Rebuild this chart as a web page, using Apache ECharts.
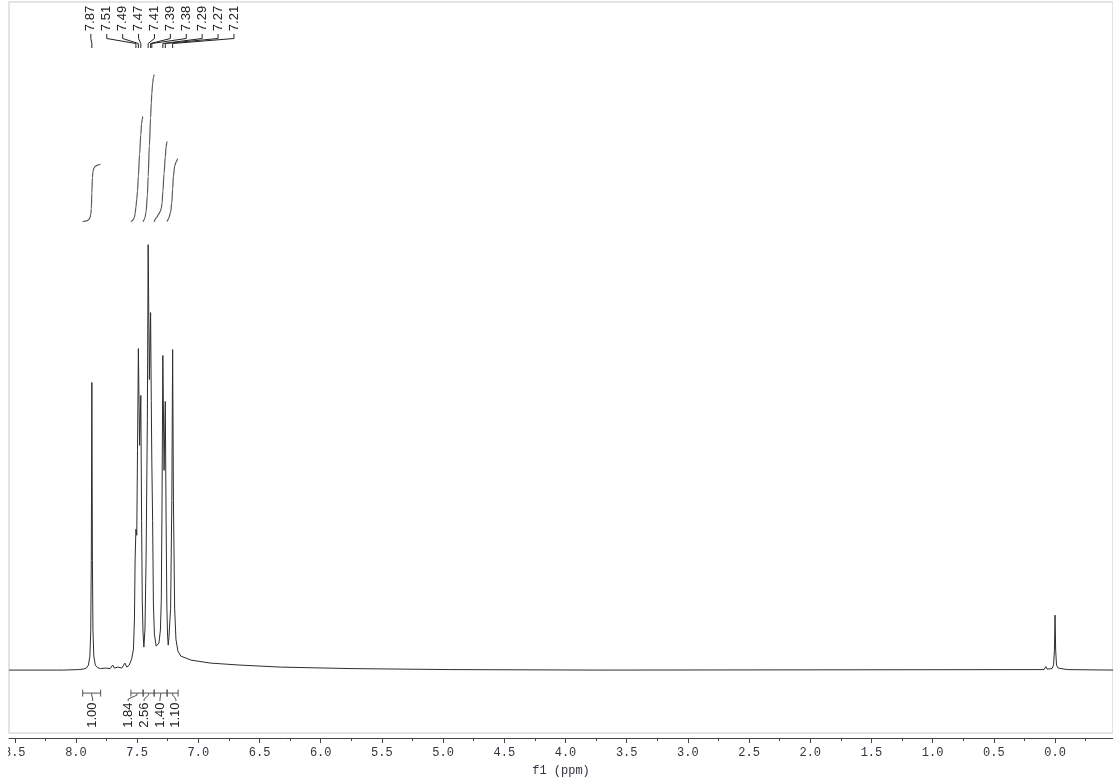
<!DOCTYPE html>
<html>
<head>
<meta charset="utf-8">
<title>1H NMR</title>
<script src="https://cdn.jsdelivr.net/npm/echarts@6/dist/echarts.min.js"></script>
<style>
  html, body { margin: 0; padding: 0; background: #ffffff; }
  #main { width: 1113px; height: 782px; }
</style>
</head>
<body>
<div id="main"></div>
<script>
// ---- Spectrum trace: chemical shift (ppm) and intensity (arbitrary units) ----
const shiftPpm = [
  8.547, 8.10, 7.98, 7.94, 7.915, 7.898, 7.886, 7.879, 7.8745,
  7.870,
  7.8655, 7.861, 7.854, 7.842, 7.825, 7.80, 7.76, 7.72, 7.70, 7.685, 7.657,
  7.625, 7.60, 7.585, 7.565, 7.545, 7.530, 7.522, 7.5165,
  7.510, 7.503, 7.497, 7.490, 7.480, 7.470, 7.4635, 7.458, 7.452, 7.445,
  7.436, 7.427, 7.4165, 7.410, 7.400, 7.390, 7.3845, 7.380, 7.3735, 7.367,
  7.359, 7.345, 7.322, 7.310, 7.3025, 7.2965, 7.290, 7.280, 7.270, 7.2635,
  7.257, 7.2515, 7.246, 7.240, 7.2265, 7.2165, 7.210, 7.2035, 7.1935, 7.183,
  7.167, 7.143, 7.06, 6.90, 6.66, 6.33, 5.76, 4.95, 3.72,
  0.09, 0.075, 0.065, 0.025, 0.012, 0.005, 0.000, -0.005, -0.012, -0.025,
  -0.1, -0.4735
];
const intensity = [
  0, 0, 0.5, 1, 2, 5, 14, 40, 110,
  288,
  110, 40, 14, 5, 2.5, 1.5, 2, 1.5, 5, 2, 3,
  2, 7, 3, 5, 11, 21, 51, 111,
  141, 135, 220, 322, 225, 275, 150, 70, 38, 23,
  41, 111, 251, 426, 291, 358, 270, 209, 150, 66,
  36, 24, 27, 40, 70, 170, 315, 200, 269, 150,
  62, 35, 25, 33, 62, 170, 321, 170, 62, 31,
  19, 14, 10, 7, 5, 3, 1.5, 0.5, 0,
  0.5, 3.5, 1, 1.5, 5, 20, 55, 20, 5, 2,
  0.5, 0
];

// ---- Picked peaks (ppm) ----
const peakShifts = [7.87, 7.51, 7.49, 7.47, 7.41, 7.39, 7.38, 7.29, 7.27, 7.21];

// ---- Integration regions (ppm) and integrals ----
const integStart  = [7.945, 7.551, 7.451, 7.361, 7.255];
const integEnd    = [7.798, 7.451, 7.361, 7.255, 7.165];
const integValues = [1.00, 1.84, 2.56, 1.40, 1.10];

// ---- Axis ticks ----
const majorTicks = [8.5, 8.0, 7.5, 7.0, 6.5, 6.0, 5.5, 5.0, 4.5, 4.0, 3.5, 3.0, 2.5, 2.0, 1.5, 1.0, 0.5, 0.0, -0.5];
const minorTicks = [8.25, 7.75, 7.25, 6.75, 6.25, 5.75, 5.25, 4.75, 4.25, 3.75, 3.25, 2.75, 2.25, 1.75, 1.25, 0.75, 0.25, -0.25];
const tickLabels = [8.5, 8.0, 7.5, 7.0, 6.5, 6.0, 5.5, 5.0, 4.5, 4.0, 3.5, 3.0, 2.5, 2.0, 1.5, 1.0, 0.5, 0.0];

// ---- Layout / style constants ----
const X_MIN = -0.4735, X_MAX = 8.547;
const Y_MIN = -63, Y_MAX = 669;
const INTEG_BASE = 449;     // vertical offset of integral curves (intensity units)
const INTEG_SCALE = 57.5;   // curve rise per integral unit
const LABEL_STEP = 15.9;    // spacing of spread-out peak labels (px)
const INK = '#222222';

// Linear lookup of the trace at a given shift
function traceAt(p) {
  for (let j = 0; j < shiftPpm.length - 1; j++) {
    const a = shiftPpm[j], b = shiftPpm[j + 1];
    if (p <= a && p >= b) {
      const t = (a - p) / (a - b);
      return intensity[j] + t * (intensity[j + 1] - intensity[j]);
    }
  }
  return 0;
}

// Running integral of the trace across a region, scaled to the stated integral
function integralCurve(start, end, value) {
  const pts = [[start, traceAt(start)]];
  for (let j = 0; j < shiftPpm.length; j++) {
    if (shiftPpm[j] < start && shiftPpm[j] > end) pts.push([shiftPpm[j], intensity[j]]);
  }
  pts.push([end, traceAt(end)]);
  const cum = [0];
  for (let k = 1; k < pts.length; k++) {
    cum.push(cum[k - 1] + (pts[k - 1][1] + pts[k][1]) / 2 * (pts[k - 1][0] - pts[k][0]));
  }
  const total = cum[cum.length - 1];
  return pts.map((p, k) => [p[0], INTEG_BASE + value * INTEG_SCALE * cum[k] / total]);
}

const chart = echarts.init(document.getElementById('main'), null, { renderer: 'canvas' });

const integralSeries = integStart.map((s, i) => ({
  type: 'line',
  data: integralCurve(s, integEnd[i], integValues[i]),
  showSymbol: false,
  smooth: 0.35,
  smoothMonotone: 'x',
  silent: true,
  lineStyle: { color: '#5a5a5a', width: 1.2 },
  z: 3
}));

const option = {
  animation: false,
  backgroundColor: '#ffffff',
  grid: {
    left: 9, top: 2, width: 1105, height: 732,
    show: true, borderColor: '#dcdcdc', borderWidth: 1.5,
    containLabel: false
  },
  xAxis: [
    {
      type: 'value', min: X_MIN, max: X_MAX, inverse: true,
      position: 'bottom', offset: 5,
      name: 'f1 (ppm)', nameLocation: 'middle', nameGap: 27,
      nameTextStyle: { fontFamily: 'Liberation Mono', fontSize: 12, color: '#333340' },
      axisLine: { show: true, onZero: false, lineStyle: { color: '#444', width: 1 } },
      axisTick: { show: true, inside: false, length: 5, customValues: majorTicks, lineStyle: { color: '#444', width: 1 } },
      axisLabel: {
        customValues: tickLabels, margin: 9,
        formatter: v => Number(v).toFixed(1),
        fontFamily: 'Liberation Mono', fontSize: 12, color: '#333340'
      },
      splitLine: { show: false }
    },
    {
      type: 'value', min: X_MIN, max: X_MAX, inverse: true,
      position: 'bottom', offset: 5,
      axisLine: { show: false, onZero: false },
      axisTick: { show: true, inside: false, length: 3, customValues: minorTicks, lineStyle: { color: '#444', width: 1 } },
      axisLabel: { show: false },
      splitLine: { show: false }
    }
  ],
  yAxis: { type: 'value', min: Y_MIN, max: Y_MAX, show: false },
  series: [
    {
      type: 'line',
      data: shiftPpm.map((s, i) => [s, intensity[i]]),
      showSymbol: false,
      silent: true,
      lineStyle: { color: '#2e2e2e', width: 1 },
      z: 4
    },
    ...integralSeries,
    {
      // peak-pick labels with leader lines
      type: 'custom',
      data: peakShifts.map((s, i) => [s, i]),
      silent: true,
      z: 5,
      renderItem: (params, api) => {
        const i = api.value(1);
        const px = api.coord([api.value(0), 0])[0];
        const x0 = api.coord([peakShifts[0], 0])[0] - 1;
        const lx = x0 + i * LABEL_STEP;
        return {
          type: 'group',
          children: [
            {
              type: 'polyline',
              shape: { points: [[lx, 34], [lx, 38.5], [px, 43.5], [px, 48]] },
              style: { stroke: INK, fill: null, lineWidth: 1 }
            },
            {
              type: 'text', x: lx, y: 18.5, rotation: Math.PI / 2,
              style: {
                text: api.value(0).toFixed(2), x: 0, y: 0,
                align: 'center', verticalAlign: 'middle',
                font: '13px "Liberation Sans"', fill: INK
              }
            }
          ]
        };
      }
    },
    {
      // integration brackets and values under the trace
      type: 'custom',
      data: integStart.map((s, i) => [s, integEnd[i], integValues[i], i]),
      silent: true,
      z: 5,
      renderItem: (params, api) => {
        const i = api.value(3);
        const x1 = api.coord([api.value(0), 0])[0];
        const x2 = api.coord([api.value(1), 0])[0];
        const yb = api.coord([0, 0])[1] + 23;
        const centers = integStart.map((s, k) =>
          (api.coord([s, 0])[0] + api.coord([integEnd[k], 0])[0]) / 2);
        let lx;
        if (i === 0) {
          lx = centers[0] + 1;
        } else {
          const grp = centers.slice(1);
          const mean = grp.reduce((a, b) => a + b, 0) / grp.length;
          lx = mean - 2.7 + (i - 1 - (grp.length - 1) / 2) * LABEL_STEP;
        }
        const cx = (x1 + x2) / 2;
        const st = { stroke: '#555', fill: null, lineWidth: 1 };
        return {
          type: 'group',
          children: [
            { type: 'line', shape: { x1: x1, y1: yb, x2: x2, y2: yb }, style: st },
            { type: 'line', shape: { x1: x1, y1: yb - 3.5, x2: x1, y2: yb + 3.5 }, style: st },
            { type: 'line', shape: { x1: x2, y1: yb - 3.5, x2: x2, y2: yb + 3.5 }, style: st },
            { type: 'polyline', shape: { points: [[cx, yb], [cx, yb + 2], [lx, yb + 6], [lx, yb + 8]] }, style: st },
            {
              type: 'text', x: lx, y: yb + 22, rotation: Math.PI / 2,
              style: {
                text: api.value(2).toFixed(2), x: 0, y: 0,
                align: 'center', verticalAlign: 'middle',
                font: '13px "Liberation Sans"', fill: INK
              }
            }
          ]
        };
      }
    }
  ],
  graphic: [
    // the leftmost tick label runs past the plot edge and is cut there
    { type: 'rect', left: 0, top: 744, shape: { width: 8, height: 24 }, style: { fill: '#ffffff' }, z: 100 }
  ]
};

chart.setOption(option);
</script>
</body>
</html>
